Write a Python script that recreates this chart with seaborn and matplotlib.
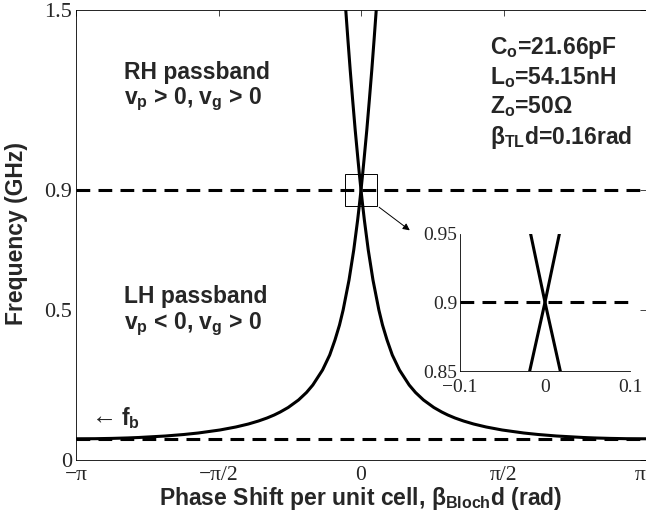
import numpy as np
import pandas as pd
import matplotlib
matplotlib.use("Agg")
import matplotlib.pyplot as plt
import seaborn as sns
from matplotlib.patches import Rectangle

# ---- data ----
freq_ghz = [0.0707, 0.071, 0.072, 0.0735, 0.075, 0.08, 0.085, 0.09, 0.10, 0.11,
            0.12, 0.13, 0.14, 0.15, 0.16, 0.175, 0.2, 0.225, 0.25, 0.3, 0.35,
            0.4, 0.45, 0.5, 0.6, 0.7, 0.8, 0.85, 0.9, 0.95, 1.0, 1.1, 1.2,
            1.3, 1.4, 1.5, 1.55]
bloch_phase = [-3.1416, -2.933, -2.747, -2.575, -2.450, -2.156, -1.953, -1.794,
               -1.556, -1.380, -1.241, -1.130, -1.036, -0.957, -0.890, -0.803,
               -0.689, -0.601, -0.531, -0.424, -0.345, -0.287, -0.237, -0.197,
               -0.132, -0.080, -0.037, -0.018, 0.0, 0.017, 0.033, 0.064, 0.092,
               0.119, 0.144, 0.168, 0.180]
f_center = 0.9
f_bragg = 0.0707
xtick_vals = [-np.pi, -np.pi / 2, 0, np.pi / 2, np.pi]
xtick_labels = ["\u2212\u03c0", "\u2212\u03c0/2", "0", "\u03c0/2", "\u03c0"]
ytick_vals = [0, 0.5, 0.9, 1.5]
ytick_labels = ["0", "0.5", "0.9", "1.5"]
inset_xticks = [-0.1, 0, 0.1]
inset_xlabels = ["\u22120.1", "0", "0.1"]
inset_yticks = [0.85, 0.9, 0.95]
inset_ylabels = ["0.85", "0.9", "0.95"]

sns.set_style("white")
plt.rcParams["mathtext.fontset"] = "custom"
plt.rcParams["mathtext.rm"] = "Liberation Sans:bold"
plt.rcParams["mathtext.bf"] = "Liberation Sans:bold"
plt.rcParams["mathtext.it"] = "Liberation Sans:bold"
plt.rcParams["font.family"] = ["Liberation Sans", "DejaVu Sans"]

df = pd.DataFrame({"f": freq_ghz, "b": bloch_phase})
df["mb"] = -df["b"]

fig = plt.figure(figsize=(6.46, 5.15), dpi=100)
ax = fig.add_axes([76 / 646, 1 - 460 / 515, 570 / 646, 450 / 515])

ax.axhline(f_center, color="black", lw=2.2, ls=(0, (4.5, 2.7)), zorder=1)
ax.axhline(f_bragg, color="black", lw=2.2, ls=(0, (4.5, 2.7)), zorder=1)
sns.lineplot(data=df, x="b", y="f", sort=False, estimator=None, color="black", lw=2.2, ax=ax)
sns.lineplot(data=df, x="mb", y="f", sort=False, estimator=None, color="black", lw=2.2, ax=ax)

ax.set_xlim(-np.pi, np.pi)
ax.set_ylim(0, 1.5)
ax.set_xticks(xtick_vals)
ax.set_xticklabels(xtick_labels, fontfamily="Liberation Serif", fontsize=15.5)
ax.get_xticklabels()[-1].set_horizontalalignment("right")
ax.set_yticks(ytick_vals)
ax.set_yticklabels(ytick_labels, fontfamily="Liberation Serif", fontsize=16)
ax.tick_params(direction="in", length=4, width=0.6, top=True, right=True)
ax.tick_params(axis="x", pad=4)
ax.tick_params(axis="y", pad=3)
for s in ax.spines.values():
    s.set_linewidth(0.6)
    s.set_color("black")
ax.set_xlabel("")
ax.set_ylabel("")

fig.text(17 / 646, 1 - 233 / 515, "Frequency (GHz)", rotation=90, ha="center", va="center",
         fontsize=16.5, fontweight="bold")
fig.text(361 / 646, 1 - 498 / 515, "Phase Shift per unit cell, \u03b2$_{\\rm Bloch}$d (rad)",
         ha="center", va="center", fontsize=16.5, fontweight="bold")

# zoom box and arrow
ax.add_patch(Rectangle((-0.176, 0.848), 0.352, 0.104, fill=False, lw=0.7, ec="black", zorder=3))
ax.annotate("", xy=(412 / 646, 1 - 232 / 515), xycoords="figure fraction",
            xytext=(0.176, 0.848), textcoords="data",
            arrowprops=dict(arrowstyle="-|>", lw=0.7, color="black", mutation_scale=10))

tk = dict(fontsize=16.5, fontweight="bold", transform=fig.transFigure, ha="left", va="center")
fig.text(124 / 646, 1 - 72 / 515, "RH passband", **tk)
fig.text(124 / 646, 1 - 99 / 515, "v$_{\\rm p}$ > 0, v$_{\\rm g}$ > 0", **tk)
fig.text(124 / 646, 1 - 297 / 515, "LH passband", **tk)
fig.text(124 / 646, 1 - 324 / 515, "v$_{\\rm p}$ < 0, v$_{\\rm g}$ > 0", **tk)
fig.text(490 / 646, 1 - 48 / 515, "C$_{\\rm o}$=21.66pF", **tk)
fig.text(490 / 646, 1 - 78 / 515, "L$_{\\rm o}$=54.15nH", **tk)
fig.text(490 / 646, 1 - 107 / 515, "Z$_{\\rm o}$=50\u03a9", **tk)
fig.text(490 / 646, 1 - 137 / 515, "\u03b2$_{\\rm TL}$d=0.16rad", **tk)
fig.text(92 / 646, 1 - 418 / 515, "\u2190", fontsize=18, fontfamily="Liberation Serif",
         ha="left", va="center")
fig.text(121 / 646, 1 - 418 / 515, "f$_{\\rm b}$", **tk)

# inset
axi = fig.add_axes([460 / 646, 1 - 371 / 515, 170 / 646, 137.5 / 515])
axi.axhline(f_center, color="black", lw=2.2, ls=(0, (4.5, 2.7)), zorder=1)
sns.lineplot(data=df, x="b", y="f", sort=False, estimator=None, color="black", lw=2.2, ax=axi)
sns.lineplot(data=df, x="mb", y="f", sort=False, estimator=None, color="black", lw=2.2, ax=axi)
axi.set_xlim(-0.1, 0.1)
axi.set_ylim(0.85, 0.95)
axi.set_xticks(inset_xticks)
axi.set_xticklabels(inset_xlabels, fontfamily="Liberation Serif", fontsize=14)
axi.set_yticks(inset_yticks)
axi.set_yticklabels(inset_ylabels, fontfamily="Liberation Serif", fontsize=14)
axi.tick_params(direction="in", length=3, width=0.6)
axi.tick_params(axis="x", pad=6)
axi.tick_params(axis="y", pad=2)
axi.spines["top"].set_visible(False)
axi.spines["right"].set_visible(False)
for s in ["left", "bottom"]:
    axi.spines[s].set_linewidth(0.6)
    axi.spines[s].set_color("black")
axi.set_xlabel("")
axi.set_ylabel("")
axi.patch.set_alpha(0)

fig.savefig("out.png", dpi=100)
